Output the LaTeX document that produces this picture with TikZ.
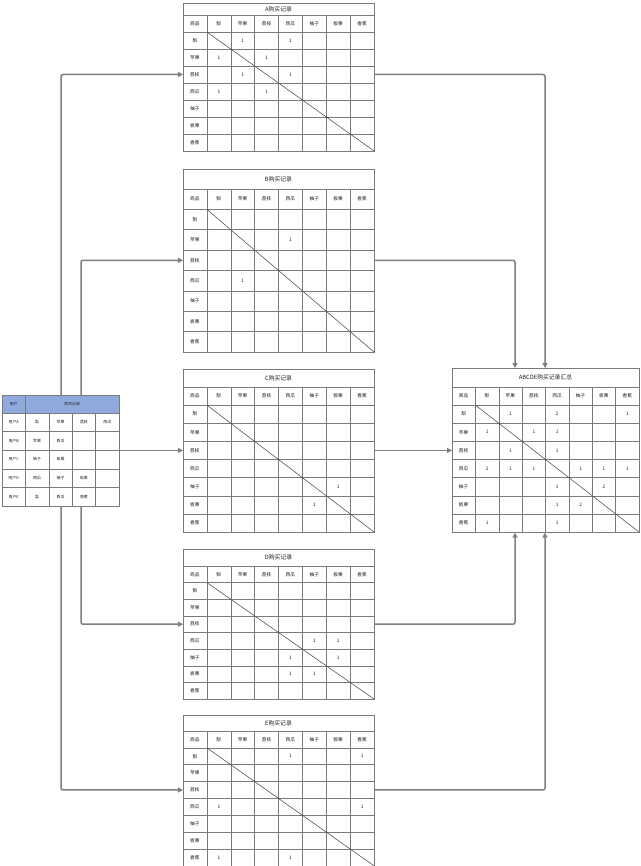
\documentclass[tikz,border=0pt]{standalone}
\usepackage{fontspec}
\setmainfont{Noto Sans CJK SC}
\usetikzlibrary{arrows.meta}
\definecolor{gridc}{HTML}{7A7A7A}
\definecolor{linec}{HTML}{7F7F7F}
\definecolor{hdrblue}{HTML}{8FAADC}
\definecolor{txt}{HTML}{1E1E1E}
\tikzset{
 tbox/.style={draw=gridc, line width=0.6pt, inner sep=0pt, fill=white},
 gridln/.style={draw=gridc, line width=0.5pt},
 diagln/.style={draw=black!70, line width=0.55pt},
 cell/.style={font=\fontsize{4.7}{5}\selectfont, text=txt, inner sep=0pt},
 ucell/.style={font=\fontsize{3.9}{4.5}\selectfont, text=txt, inner sep=0pt},
 ttl/.style={font=\fontsize{5.8}{6}\selectfont, text=txt, inner sep=0pt},
 arr/.style={draw=linec, line width=1.5pt, rounded corners=2pt, -{Triangle[length=5pt,width=5pt]}},
}
\newcommand\cotable[8]{%
 \begin{scope}[shift={(#2,#3)}]
  \pgfmathsetmacro\tabcw{#4/8}
  \pgfmathsetmacro\tabth{#5}
  \pgfmathsetmacro\tabrh{#6}
  \pgfmathsetmacro\tabH{#5+8*#6}
  \node[tbox, minimum width=#4pt, minimum height=\tabH pt, anchor=north west] (#1) at (0,0) {};
  \draw[gridln] (0,\tabth) -- (#4,\tabth);
  \foreach \i in {1,...,7} \draw[gridln] (0,{\tabth+\i*\tabrh}) -- (#4,{\tabth+\i*\tabrh});
  \foreach \j in {1,...,7} \draw[gridln] ({\j*\tabcw},\tabth) -- ({\j*\tabcw},\tabH);
  \draw[diagln] (\tabcw,{\tabth+\tabrh}) -- (#4,\tabH);
  \node[ttl] (#1-t) at ({#4/2},{\tabth/2}) {#7};
  \foreach \j/\s in {0/商品,1/梨,2/苹果,3/荔枝,4/西瓜,5/柚子,6/板栗,7/香蕉}
    \node[cell] (#1-h\j) at ({(\j+0.5)*\tabcw},{\tabth+0.5*\tabrh}) {\s};
  \foreach \i/\s in {1/梨,2/苹果,3/荔枝,4/西瓜,5/柚子,6/板栗,7/香蕉}
    \node[cell] (#1-r\i) at ({0.5*\tabcw},{\tabth+(\i+0.5)*\tabrh}) {\s};
  \foreach \r/\c/\v in {#8}
    \node[cell] (#1-\r-\c) at ({(\c+0.5)*\tabcw},{\tabth+(\r+0.5)*\tabrh}) {\v};
  \coordinate (#1-l) at (0,{\tabth+3.5*\tabrh});
  \coordinate (#1-r) at (#4,{\tabth+3.5*\tabrh});
 \end{scope}}
\begin{document}
\begin{tikzpicture}[x=1pt,y=-1pt]
\fill[white] (0,0) rectangle (640,866);
\useasboundingbox (0,0) rectangle (640,866);
% pair tables
\cotable{A}{183}{3}{191}{12}{17}{A购买记录}{1/2/1,1/4/1,2/1/1,2/3/1,3/2/1,3/4/1,4/1/1,4/3/1}
\cotable{B}{183}{169}{191}{20}{20.375}{B购买记录}{2/4/1,4/2/1}
\cotable{C}{183}{369}{191}{18}{18.125}{C购买记录}{5/6/1,6/5/1}
\cotable{D}{183}{549}{191}{17}{16.625}{D购买记录}{4/5/1,4/6/1,5/4/1,5/6/1,6/4/1,6/5/1}
\cotable{E}{183}{715}{191}{16}{16.85}{E购买记录}{1/4/1,1/7/1,4/1/1,4/7/1,7/1/1,7/4/1}
\cotable{S}{452}{368}{187}{19}{18.125}{ABCDE购买记录汇总}{1/2/1,1/4/2,1/7/1,2/1/1,2/3/1,2/4/1,3/2/1,3/4/1,4/1/2,4/2/1,4/3/1,4/5/1,4/6/1,4/7/1,5/4/1,5/6/2,6/4/1,6/5/2,7/1/1,7/4/1}
% user table
\node[tbox, minimum width=117pt, minimum height=111pt, anchor=north west] (U) at (2,395) {};
\begin{scope}[shift={(2,395)}]
  \fill[hdrblue] (0,0) rectangle (117,18);
  \draw[gridc, line width=0.6pt] (0,0) rectangle (117,111);
  \draw[gridln] (23.4,0) -- (23.4,111);
  \foreach \j in {2,3,4} \draw[gridln] ({\j*23.4},18) -- ({\j*23.4},111);
  \foreach \i in {0,...,4} \draw[gridln] (0,{18+\i*18.6}) -- (117,{18+\i*18.6});
  \node[ucell] (U-h0) at (11.7,9) {用户};
  \node[ucell] (U-h1) at (70.2,9) {购买记录};
  \foreach \i/\u/\p/\q/\r/\s in {0/用户A/梨/苹果/荔枝/西瓜,1/用户B/苹果/西瓜//,2/用户C/柚子/板栗//,3/用户D/西瓜/柚子/板栗/,4/用户E/梨/西瓜/香蕉/}{
    \node[ucell] (U-\i-0) at (11.7,{18+(\i+0.5)*18.6}) {\u};
    \node[ucell] (U-\i-1) at (35.1,{18+(\i+0.5)*18.6}) {\p};
    \node[ucell] (U-\i-2) at (58.5,{18+(\i+0.5)*18.6}) {\q};
    \node[ucell] (U-\i-3) at (81.9,{18+(\i+0.5)*18.6}) {\r};
    \node[ucell] (U-\i-4) at (105.3,{18+(\i+0.5)*18.6}) {\s};
  }
\end{scope}
\coordinate (U-ta) at (61,395);
\coordinate (U-tb) at (81,395);
\coordinate (U-ba) at (61,506);
\coordinate (U-bb) at (81,506);
\coordinate (jA) at (545,0);
\coordinate (jB) at (515,0);
% connectors
\draw[arr] (U-ta) |- (A-l);
\draw[arr] (U-tb) |- (B-l);
\draw[arr] (U.east |- C-l) -- (C-l);
\draw[arr] (U-bb) |- (D-l);
\draw[arr] (U-ba) |- (E-l);
\draw[arr] (A-r) -| (S.north -| jA);
\draw[arr] (B-r) -| (S.north -| jB);
\draw[arr] (C-r) -- (C-r -| S.west);
\draw[arr] (D-r) -| (S.south -| jB);
\draw[arr] (E-r) -| (S.south -| jA);
\end{tikzpicture}
\end{document}
